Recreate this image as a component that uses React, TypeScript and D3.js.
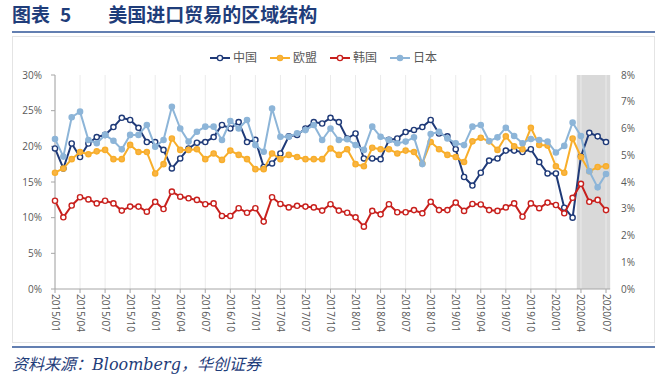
import React from "react";
import * as d3 from "d3";

const months: string[] = [];
for (let y = 2015; y <= 2020; y++) {
  for (let m = 1; m <= 12; m++) {
    if (y === 2020 && m > 7) break;
    months.push(`${y}/${m < 10 ? "0" + m : m}`);
  }
}

const china = [19.7, 16.9, 20.4, 18.5, 20.4, 21.3, 21.6, 22.7, 24.0, 23.7, 22.6, 20.6, 20.6, 19.5, 16.9, 18.3, 19.7, 20.5, 20.6, 21.3, 23.0, 22.5, 23.4, 20.6, 20.9, 17.1, 17.6, 19.0, 21.4, 21.6, 22.5, 23.4, 23.2, 24.0, 23.4, 21.1, 21.8, 18.3, 18.3, 18.2, 20.9, 21.1, 22.0, 22.3, 22.7, 23.7, 21.8, 21.4, 19.6, 15.7, 14.5, 16.3, 18.0, 18.3, 19.4, 19.4, 19.2, 19.6, 17.8, 16.2, 16.2, 11.4, 10.0, 18.6, 21.9, 21.4, 20.6];
const eu = [16.3, 16.9, 18.2, 19.2, 18.9, 19.3, 19.5, 18.2, 18.2, 20.2, 19.2, 19.2, 16.2, 17.5, 21.1, 19.5, 19.5, 19.6, 18.2, 19.0, 18.1, 19.4, 18.8, 18.2, 16.8, 16.8, 19.0, 18.2, 18.8, 18.5, 18.2, 18.2, 18.2, 19.7, 18.8, 19.6, 17.5, 17.2, 19.8, 19.6, 19.6, 19.0, 19.4, 19.2, 17.6, 20.6, 19.6, 18.8, 18.5, 17.8, 20.7, 21.2, 20.7, 19.5, 21.4, 20.0, 19.6, 22.6, 20.2, 20.1, 17.2, 16.3, 21.1, 18.5, 16.5, 17.1, 17.2];
const korea = [3.30, 2.68, 3.12, 3.43, 3.35, 3.20, 3.30, 3.20, 2.93, 3.08, 3.08, 2.89, 3.26, 2.99, 3.64, 3.45, 3.39, 3.33, 3.17, 3.20, 2.73, 2.73, 3.02, 2.85, 3.02, 2.52, 3.43, 3.18, 3.05, 3.11, 3.08, 3.05, 2.93, 3.17, 2.93, 2.85, 2.68, 2.33, 2.92, 2.79, 3.17, 2.87, 2.87, 2.95, 2.83, 3.26, 2.95, 2.95, 3.23, 2.92, 3.18, 3.16, 2.95, 2.92, 3.05, 3.20, 2.70, 3.20, 3.02, 3.23, 3.14, 2.83, 3.41, 3.93, 3.26, 3.33, 2.95];
const japan = [5.61, 4.95, 6.42, 6.63, 5.57, 5.45, 5.76, 5.54, 5.22, 5.76, 5.76, 6.13, 5.32, 5.57, 6.81, 6.0, 5.51, 5.88, 6.07, 6.07, 5.57, 6.28, 6.0, 6.32, 5.38, 5.13, 6.75, 5.69, 5.69, 5.82, 5.94, 6.13, 5.57, 6.0, 5.57, 5.6, 5.38, 5.2, 6.07, 5.69, 5.57, 5.45, 5.51, 5.67, 4.67, 5.79, 5.88, 5.63, 5.45, 5.38, 6.07, 6.13, 5.53, 5.67, 6.03, 5.72, 5.45, 5.61, 5.57, 5.51, 5.1, 5.35, 6.22, 5.72, 4.4, 3.8, 4.3];

const leftTicks = [0, 5, 10, 15, 20, 25, 30];
const rightTicks = [0, 1, 2, 3, 4, 5, 6, 7, 8];
const shadeStart = "2020/04";
const shadeEnd = "2020/07";

const seriesNames = ["中国", "欧盟", "韩国", "日本"];

export default function App() {
  const W = 670, H = 380;
  const x = d3.scaleLinear().domain([0, months.length - 1]).range([55, 606]);
  const yL = d3.scaleLinear().domain([0, 30]).range([289, 75]);
  const yR = d3.scaleLinear().domain([0, 8]).range([289, 75]);
  const step = x(1) - x(0);

  const series = [
    { name: seriesNames[0], data: china, y: yL, color: "#1F3A78", fill: "#ffffff" },
    { name: seriesNames[1], data: eu, y: yL, color: "#F8AE2A", fill: "#F8B445" },
    { name: seriesNames[2], data: korea, y: yR, color: "#C8201D", fill: "#ffffff" },
    { name: seriesNames[3], data: japan, y: yR, color: "#8DB5D8", fill: "#8DB5D8" },
  ];

  const tickIdx = months.map((_, i) => i).filter((i) => i % 3 === 0);
  const s0 = months.indexOf(shadeStart), s1 = months.indexOf(shadeEnd);
  const font = "'Open Sans', 'Noto Sans CJK SC', sans-serif";
  const legendX = [210, 270, 330, 390];

  return (
    <svg width={W} height={H} style={{ display: "block", position: "absolute", left: 0, top: 0 }}>
      <rect width={W} height={H} fill="#fff" />
      <text x={12} y={22} fontFamily="'Noto Sans CJK SC', serif" fontWeight={700} fontSize={19} fill="#1F3D7A">
        图表<tspan dx={10}>5</tspan><tspan dx={37}>美国进口贸易的区域结构</tspan>
      </text>
      <line x1={12} x2={655} y1={32} y2={32} stroke="#2F5597" strokeWidth={1.6} />
      <rect x={12.5} y={36.5} width={642} height={306} fill="none" stroke="#E4E4E4" />
      <line x1={12} x2={655} y1={347} y2={347} stroke="#2F5597" strokeWidth={1.6} />
      <text x={12} y={370} fontFamily="'DejaVu Serif', 'Noto Sans CJK SC', serif" fontStyle="italic" fontSize={16} fill="#1F3D7A">
        资料来源：Bloomberg，华创证券
      </text>

      {/* shaded period */}
      <rect x={x(s0 - 0.5)} y={yR(8)} width={x(s1 + 0.5) - x(s0 - 0.5)} height={yR(0) - yR(8)} fill="#D9D9D9" />

      {/* vertical gridlines */}
      {tickIdx.map((i) => (
        <line key={"g" + i} x1={x(i)} x2={x(i)} y1={yL(30)} y2={yL(0)} stroke="#EBEBEB" strokeWidth={1} />
      ))}

      {/* left axis */}
      <line x1={55} x2={55} y1={yL(30)} y2={yL(0)} stroke="#A6A6A6" />
      {leftTicks.map((t) => (
        <g key={"l" + t}>
          <line x1={51} x2={55} y1={yL(t)} y2={yL(t)} stroke="#A6A6A6" />
          <text x={42} y={yL(t)} dy="0.35em" textAnchor="end" fontFamily={font} fontSize={10} fill="#595959">{t}%</text>
        </g>
      ))}
      {rightTicks.map((t) => (
        <text key={"r" + t} x={621} y={yR(t)} dy="0.35em" fontFamily={font} fontSize={10} fill="#595959">{t}%</text>
      ))}

      {/* bottom axis */}
      <line x1={55} x2={x(months.length - 1) + step * 0.5} y1={yL(0)} y2={yL(0)} stroke="#A6A6A6" />
      {tickIdx.map((i) => (
        <g key={"t" + i}>
          <line x1={x(i)} x2={x(i)} y1={yL(0)} y2={yL(0) + 4} stroke="#A6A6A6" />
          <text transform={`translate(${x(i)},${yL(0) + 5}) rotate(90)`} dy="0.35em" fontFamily={font} fontSize={10} fill="#595959">
            {months[i]}
          </text>
        </g>
      ))}

      {/* series */}
      {series.map((s) => {
        const line = d3.line<number>().x((_, i) => x(i)).y((d) => s.y(d));
        return (
          <g key={s.name}>
            <path d={line(s.data) || ""} fill="none" stroke={s.color} strokeWidth={2} strokeLinejoin="round" />
            {s.data.map((d, i) => (
              <circle key={i} cx={x(i)} cy={s.y(d)} r={2.6} fill={s.fill} stroke={s.color} strokeWidth={1.4} />
            ))}
          </g>
        );
      })}

      {/* legend */}
      {series.map((s, k) => (
        <g key={"lg" + k} transform={`translate(${legendX[k]},58)`}>
          <line x1={0} x2={20} y1={0} y2={0} stroke={s.color} strokeWidth={2} />
          <circle cx={10} cy={0} r={2.6} fill={s.fill} stroke={s.color} strokeWidth={1.4} />
          <text x={23} y={0} dy="0.35em" fontFamily="'Noto Sans CJK SC', sans-serif" fontSize={12} fill="#595959">{s.name}</text>
        </g>
      ))}
    </svg>
  );
}
